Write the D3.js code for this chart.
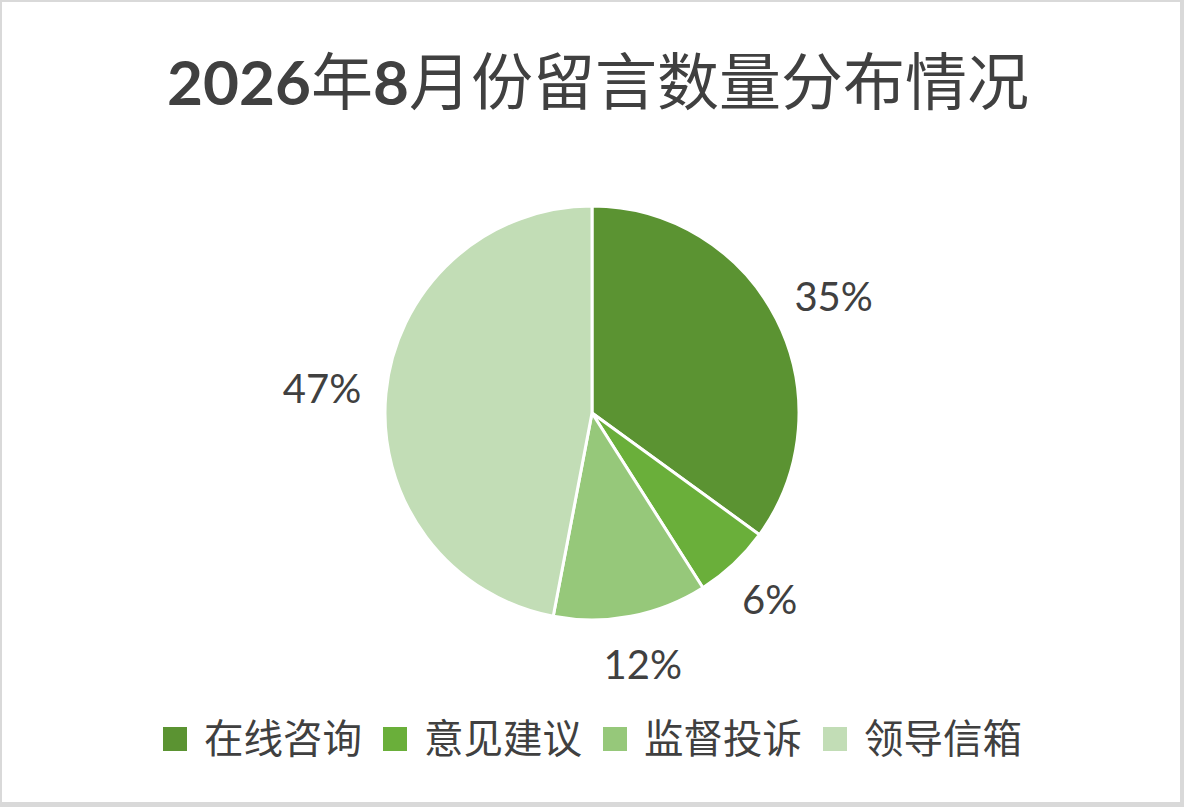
<!DOCTYPE html>
<html>
<head>
<meta charset="utf-8">
<script src="https://cdn.jsdelivr.net/npm/d3@7"></script>
<style>
  body { margin: 0; background: #fff; }
  svg { display: block; }
</style>
</head>
<body>
<script>
var categories = ['在线咨询', '意见建议', '监督投诉', '领导信箱'];
var values = [35, 6, 12, 47];
var colors = ['#5b9332', '#6aaf3a', '#96c87a', '#c2ddb6'];
var title = '2026年8月份留言数量分布情况';

var W = 1184, H = 807;
var cx = 592, cy = 413, R = 207;
var latin = 'Lato, "Open Sans", sans-serif';
var cjk = '"Noto Sans CJK SC", "Noto Sans", sans-serif';

var svg = d3.select('body').append('svg')
  .attr('width', W)
  .attr('height', H);

// border of the chart area
svg.append('rect').attr('width', W).attr('height', H).attr('fill', '#d9d9d9');
svg.append('rect').attr('x', 2).attr('y', 2).attr('width', 1178).attr('height', 800).attr('fill', '#fff');

// title: digits bold latin, CJK regular
var t = svg.append('text')
  .attr('x', W / 2 + 6)
  .attr('y', 105)
  .attr('text-anchor', 'middle')
  .attr('fill', '#404040')
  .attr('font-size', 62);
title.match(/[0-9]+|[^0-9]+/g).forEach(function(s) {
  var isNum = /[0-9]/.test(s);
  t.append('tspan')
    .attr('font-family', isNum ? latin : cjk)
    .attr('font-weight', isNum ? 700 : 400)
    .text(s);
});

var pie = d3.pie().sort(null).value(function(d) { return d; });
var arcs = pie(values);
var arc = d3.arc().innerRadius(0).outerRadius(R);

var g = svg.append('g').attr('transform', 'translate(' + cx + ',' + cy + ')');

g.selectAll('path')
  .data(arcs)
  .enter().append('path')
    .attr('d', arc)
    .attr('fill', function(d, i) { return colors[i]; })
    .attr('stroke', '#fff')
    .attr('stroke-width', 3)
    .attr('stroke-linejoin', 'round');

// percentage labels outside the pie
var fs = 40, gap = 25, hh = 24;
var total = d3.sum(values);
g.selectAll('text.lbl')
  .data(arcs)
  .enter().append('text')
    .attr('class', 'lbl')
    .attr('font-family', latin)
    .attr('font-size', fs)
    .attr('fill', '#404040')
    .attr('text-anchor', 'middle')
    .text(function(d) { return Math.round(d.data / total * 100) + '%'; })
    .each(function(d) {
      var a = (d.startAngle + d.endAngle) / 2;
      var hw = this.getComputedTextLength() / 2;
      var s = Math.sin(a), c = Math.cos(a);
      var x = (R + gap + hw) * s;
      var y = -(R + gap + hh) * c;
      d3.select(this).attr('x', x).attr('y', y + fs * 0.36);
    });

// legend
var legend = svg.append('g');
var lx = 163, ly = 739, stride = 220;
var items = legend.selectAll('g')
  .data(categories)
  .enter().append('g')
    .attr('transform', function(d, i) { return 'translate(' + (lx + i * stride) + ',' + ly + ')'; });
items.append('rect')
  .attr('x', 0).attr('y', -12)
  .attr('width', 24).attr('height', 24)
  .attr('fill', function(d, i) { return colors[i]; });
items.append('text')
  .attr('x', 41)
  .attr('y', 14)
  .attr('font-family', cjk)
  .attr('font-size', 39.5)
  .attr('fill', '#404040')
  .text(function(d) { return d; });
</script>
</body>
</html>
